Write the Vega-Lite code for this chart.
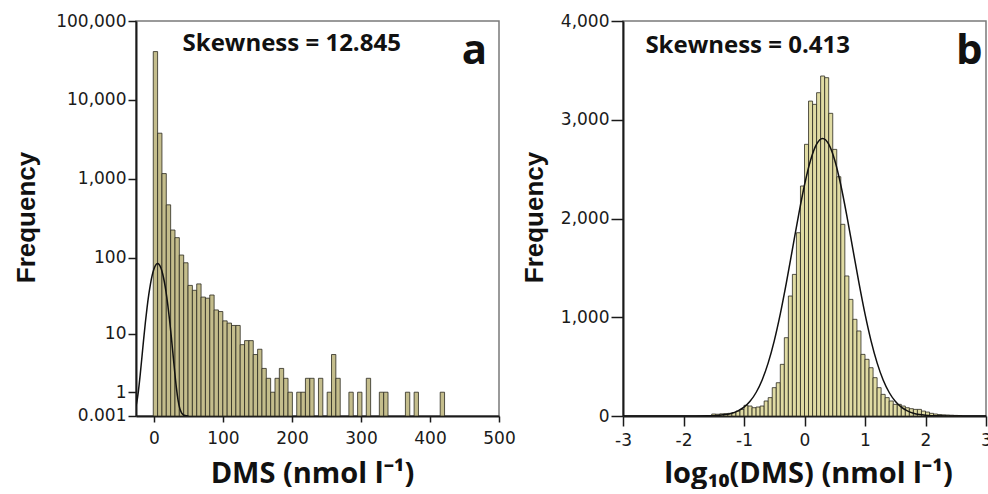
{
  "$schema": "https://vega.github.io/schema/vega-lite/v6.json",
  "background": "white",
  "padding": {"left": 12, "top": 11, "right": 0, "bottom": 0},
  "bounds": "flush",
  "spacing": 124,
  "config": {
    "view": {"stroke": "#7a7a7a", "strokeWidth": 1.5},
    "axis": {
      "grid": false,
      "domainColor": "#1a1a1a",
      "domainWidth": 2,
      "tickColor": "#1a1a1a",
      "tickWidth": 1.5,
      "labelFont": "DejaVu Sans",
      "labelFontSize": 17,
      "labelColor": "#1a1a1a",
      "labelFlush": false,
      "labelOverlap": false,
      "titleColor": "#111111"
    }
  },
  "datasets": {
    "leftBins": [
      {"x0": -1, "x1": 5.3, "count": 41000},
      {"x0": 5.3, "x1": 11.6, "count": 3800},
      {"x0": 11.6, "x1": 17.9, "count": 1170},
      {"x0": 17.9, "x1": 24.2, "count": 470},
      {"x0": 24.2, "x1": 30.5, "count": 225},
      {"x0": 30.5, "x1": 36.8, "count": 180},
      {"x0": 36.8, "x1": 43.1, "count": 108},
      {"x0": 43.1, "x1": 49.4, "count": 86},
      {"x0": 49.4, "x1": 55.7, "count": 44},
      {"x0": 55.7, "x1": 62.0, "count": 38},
      {"x0": 62.0, "x1": 68.3, "count": 46},
      {"x0": 68.3, "x1": 74.6, "count": 31},
      {"x0": 74.6, "x1": 80.9, "count": 30},
      {"x0": 80.9, "x1": 87.2, "count": 33},
      {"x0": 87.2, "x1": 93.5, "count": 21},
      {"x0": 93.5, "x1": 99.8, "count": 20},
      {"x0": 99.8, "x1": 106.1, "count": 15},
      {"x0": 106.1, "x1": 112.4, "count": 14},
      {"x0": 112.4, "x1": 118.7, "count": 13},
      {"x0": 118.7, "x1": 125.0, "count": 13},
      {"x0": 125.0, "x1": 131.3, "count": 7},
      {"x0": 131.3, "x1": 137.6, "count": 8},
      {"x0": 137.6, "x1": 143.9, "count": 8},
      {"x0": 143.9, "x1": 150.2, "count": 5},
      {"x0": 150.2, "x1": 156.5, "count": 6},
      {"x0": 156.5, "x1": 162.8, "count": 3},
      {"x0": 162.8, "x1": 169.1, "count": 2},
      {"x0": 169.1, "x1": 175.4, "count": 1},
      {"x0": 175.4, "x1": 181.7, "count": 2},
      {"x0": 181.7, "x1": 188.0, "count": 3},
      {"x0": 188.0, "x1": 194.3, "count": 2},
      {"x0": 194.3, "x1": 200.6, "count": 1},
      {"x0": 206.9, "x1": 213.2, "count": 1},
      {"x0": 213.2, "x1": 219.5, "count": 1},
      {"x0": 219.5, "x1": 225.8, "count": 2},
      {"x0": 225.8, "x1": 232.1, "count": 2},
      {"x0": 238.4, "x1": 244.7, "count": 2},
      {"x0": 251.0, "x1": 257.3, "count": 1},
      {"x0": 257.3, "x1": 263.6, "count": 5},
      {"x0": 263.6, "x1": 269.9, "count": 2},
      {"x0": 282.5, "x1": 288.8, "count": 1},
      {"x0": 295.1, "x1": 301.4, "count": 1},
      {"x0": 307.7, "x1": 314.0, "count": 2},
      {"x0": 326.6, "x1": 332.9, "count": 1},
      {"x0": 332.9, "x1": 339.2, "count": 1},
      {"x0": 364.4, "x1": 370.7, "count": 1},
      {"x0": 377.0, "x1": 383.3, "count": 1},
      {"x0": 414.8, "x1": 421.1, "count": 1}
    ],
    "leftCurve": [
      {"x": -26, "y": 0.333}, {"x": -25, "y": 0.473}, {"x": -22.5, "y": 1.07},
      {"x": -20, "y": 2.27}, {"x": -17.5, "y": 4.47}, {"x": -15, "y": 8.2},
      {"x": -12.5, "y": 14.05}, {"x": -10, "y": 22.4}, {"x": -7.5, "y": 33.3},
      {"x": -5, "y": 46.2}, {"x": -2.5, "y": 59.6}, {"x": 0, "y": 71.7},
      {"x": 2.5, "y": 80.4}, {"x": 5.3, "y": 84}, {"x": 7.5, "y": 81.7},
      {"x": 10, "y": 74.2}, {"x": 12.5, "y": 62.7}, {"x": 15, "y": 49.4},
      {"x": 17.5, "y": 36.3}, {"x": 20, "y": 24.8}, {"x": 22.5, "y": 15.8},
      {"x": 25, "y": 9.4}, {"x": 27.5, "y": 5.2}, {"x": 30, "y": 2.69},
      {"x": 32.5, "y": 1.29}, {"x": 35, "y": 0.579}, {"x": 37.5, "y": 0.242},
      {"x": 40, "y": 0.094}, {"x": 42.5, "y": 0.034}, {"x": 45, "y": 0.0115},
      {"x": 50, "y": 0.001}
    ],
    "leftText": [
      {"x": 41.5, "y": 41300, "label": "Skewness = 12.845", "kind": "skew"},
      {"x": 446, "y": 28800, "label": "a", "kind": "letter"}
    ],
    "rightBins": [
      {"x0": -1.5333, "x1": -1.4667, "count": 20},
      {"x0": -1.4667, "x1": -1.4, "count": 18},
      {"x0": -1.4, "x1": -1.3333, "count": 22},
      {"x0": -1.3333, "x1": -1.2667, "count": 24},
      {"x0": -1.2667, "x1": -1.2, "count": 27},
      {"x0": -1.2, "x1": -1.1333, "count": 34},
      {"x0": -1.1333, "x1": -1.0667, "count": 50},
      {"x0": -1.0667, "x1": -1.0, "count": 67},
      {"x0": -1.0, "x1": -0.9333, "count": 108},
      {"x0": -0.9333, "x1": -0.8667, "count": 101},
      {"x0": -0.8667, "x1": -0.8, "count": 84},
      {"x0": -0.8, "x1": -0.7333, "count": 91},
      {"x0": -0.7333, "x1": -0.6667, "count": 101},
      {"x0": -0.6667, "x1": -0.6, "count": 152},
      {"x0": -0.6, "x1": -0.5333, "count": 186},
      {"x0": -0.5333, "x1": -0.4667, "count": 287},
      {"x0": -0.4667, "x1": -0.4, "count": 337},
      {"x0": -0.4, "x1": -0.3333, "count": 523},
      {"x0": -0.3333, "x1": -0.2667, "count": 793},
      {"x0": -0.2667, "x1": -0.2, "count": 1215},
      {"x0": -0.2, "x1": -0.1333, "count": 1434},
      {"x0": -0.1333, "x1": -0.0667, "count": 1856},
      {"x0": -0.0667, "x1": 0.0, "count": 2329},
      {"x0": 0.0, "x1": 0.0667, "count": 2751},
      {"x0": 0.0667, "x1": 0.1333, "count": 3189},
      {"x0": 0.1333, "x1": 0.2, "count": 3156},
      {"x0": 0.2, "x1": 0.2667, "count": 3274},
      {"x0": 0.2667, "x1": 0.3333, "count": 3443},
      {"x0": 0.3333, "x1": 0.4, "count": 3426},
      {"x0": 0.4, "x1": 0.4667, "count": 3065},
      {"x0": 0.4667, "x1": 0.5333, "count": 2700},
      {"x0": 0.5333, "x1": 0.6, "count": 2423},
      {"x0": 0.6, "x1": 0.6667, "count": 1941},
      {"x0": 0.6667, "x1": 0.7333, "count": 1418},
      {"x0": 0.7333, "x1": 0.8, "count": 1181},
      {"x0": 0.8, "x1": 0.8667, "count": 979},
      {"x0": 0.8667, "x1": 0.9333, "count": 861},
      {"x0": 0.9333, "x1": 1.0, "count": 624},
      {"x0": 1.0, "x1": 1.0667, "count": 574},
      {"x0": 1.0667, "x1": 1.1333, "count": 489},
      {"x0": 1.1333, "x1": 1.2, "count": 388},
      {"x0": 1.2, "x1": 1.2667, "count": 287},
      {"x0": 1.2667, "x1": 1.3333, "count": 219},
      {"x0": 1.3333, "x1": 1.4, "count": 186},
      {"x0": 1.4, "x1": 1.4667, "count": 152},
      {"x0": 1.4667, "x1": 1.5333, "count": 118},
      {"x0": 1.5333, "x1": 1.6, "count": 118},
      {"x0": 1.6, "x1": 1.6667, "count": 101},
      {"x0": 1.6667, "x1": 1.7333, "count": 84},
      {"x0": 1.7333, "x1": 1.8, "count": 74},
      {"x0": 1.8, "x1": 1.8667, "count": 67},
      {"x0": 1.8667, "x1": 1.9333, "count": 67},
      {"x0": 1.9333, "x1": 2.0, "count": 50},
      {"x0": 2.0, "x1": 2.0667, "count": 40},
      {"x0": 2.0667, "x1": 2.1333, "count": 27},
      {"x0": 2.1333, "x1": 2.2, "count": 20},
      {"x0": 2.2, "x1": 2.2667, "count": 15},
      {"x0": 2.2667, "x1": 2.3333, "count": 12},
      {"x0": 2.3333, "x1": 2.4, "count": 10},
      {"x0": 2.4, "x1": 2.4667, "count": 8},
      {"x0": 2.4667, "x1": 2.5333, "count": 6},
      {"x0": 2.5333, "x1": 2.6, "count": 5}
    ],
    "rightCurve": [
      {"x": -3, "y": 0}, {"x": -2.4, "y": 0}, {"x": -2.0, "y": 0.06},
      {"x": -1.8, "y": 0.35}, {"x": -1.6, "y": 1.78}, {"x": -1.5, "y": 3.78},
      {"x": -1.4, "y": 7.7}, {"x": -1.3, "y": 15.1}, {"x": -1.2, "y": 28.5},
      {"x": -1.1, "y": 51.5}, {"x": -1.0, "y": 89.3}, {"x": -0.9, "y": 148.8},
      {"x": -0.8, "y": 238}, {"x": -0.7, "y": 365}, {"x": -0.6, "y": 538},
      {"x": -0.5, "y": 761}, {"x": -0.4, "y": 1034}, {"x": -0.3, "y": 1348},
      {"x": -0.2, "y": 1687}, {"x": -0.1, "y": 2027}, {"x": 0.0, "y": 2339},
      {"x": 0.1, "y": 2590}, {"x": 0.2, "y": 2753}, {"x": 0.3, "y": 2810},
      {"x": 0.4, "y": 2753}, {"x": 0.5, "y": 2590}, {"x": 0.6, "y": 2339},
      {"x": 0.7, "y": 2027}, {"x": 0.8, "y": 1687}, {"x": 0.9, "y": 1348},
      {"x": 1.0, "y": 1034}, {"x": 1.1, "y": 761}, {"x": 1.2, "y": 538},
      {"x": 1.3, "y": 365}, {"x": 1.4, "y": 238}, {"x": 1.5, "y": 148.8},
      {"x": 1.6, "y": 89.3}, {"x": 1.7, "y": 51.5}, {"x": 1.8, "y": 28.5},
      {"x": 1.9, "y": 15.1}, {"x": 2.0, "y": 7.7}, {"x": 2.1, "y": 3.78},
      {"x": 2.2, "y": 1.78}, {"x": 2.4, "y": 0.35}, {"x": 2.6, "y": 0.06},
      {"x": 3, "y": 0}
    ],
    "rightText": [
      {"x": -2.63, "y": 3679, "label": "Skewness = 0.413", "kind": "skew"},
      {"x": 2.505, "y": 3560, "label": "b", "kind": "letter"}
    ]
  },
  "hconcat": [
    {
      "width": 363,
      "height": 395,
      "layer": [
        {
          "data": {"name": "leftBins"},
          "mark": {"type": "bar", "fill": "#c4bd8c", "stroke": "#2b2a20", "strokeWidth": 0.8},
          "encoding": {
            "x": {
              "field": "x0", "type": "quantitative",
              "scale": {"domain": [-26, 500], "nice": false, "zero": false},
              "axis": {
                "values": [0, 100, 200, 300, 400, 500],
                "format": "d",
                "tickSize": 6, "labelPadding": 8,
                "title": "DMS (nmol l⁻¹)",
                "titleFont": "Open Sans", "titleFontWeight": "bold", "titleFontSize": 29,
                "titleX": 176, "titleY": 66, "titleBaseline": "alphabetic", "titleAlign": "center"
              }
            },
            "x2": {"field": "x1"},
            "y": {
              "field": "count", "type": "quantitative",
              "scale": {"type": "symlog", "domain": [0, 100000], "nice": false, "zero": false},
              "axis": {
                "values": [0.001, 1, 10, 100, 1000, 10000, 100000],
                "labelExpr": "datum.value < 1 ? format(datum.value, '.3f') : format(datum.value, ',d')",
                "tickSize": 8, "labelPadding": 2,
                "title": "Frequency",
                "titleFont": "Liberation Sans", "titleFontWeight": "bold", "titleFontSize": 26,
                "titleX": -102, "titleY": 196, "titleBaseline": "alphabetic", "titleAlign": "center", "titleAngle": -90
              }
            },
            "y2": {"datum": 0}
          }
        },
        {
          "data": {"name": "leftCurve"},
          "mark": {"type": "line", "color": "#111111", "strokeWidth": 1.5, "clip": true, "interpolate": "monotone"},
          "encoding": {
            "x": {"field": "x", "type": "quantitative", "scale": {"domain": [-26, 500], "nice": false, "zero": false}},
            "y": {"field": "y", "type": "quantitative", "scale": {"type": "symlog", "domain": [0, 100000], "nice": false, "zero": false}}
          }
        },
        {
          "data": {"name": "leftText"},
          "mark": {"type": "text", "align": "left", "baseline": "alphabetic", "font": "Open Sans", "fontWeight": "bold", "color": "#111111"},
          "encoding": {
            "x": {"field": "x", "type": "quantitative", "scale": {"domain": [-26, 500], "nice": false, "zero": false}},
            "y": {"field": "y", "type": "quantitative", "scale": {"type": "symlog", "domain": [0, 100000], "nice": false, "zero": false}},
            "text": {"field": "label"},
            "size": {"field": "kind", "type": "nominal", "scale": {"domain": ["skew", "letter"], "range": [24, 42]}, "legend": null}
          }
        }
      ]
    },
    {
      "width": 363,
      "height": 395,
      "layer": [
        {
          "data": {"name": "rightBins"},
          "mark": {"type": "bar", "fill": "#e0dba3", "stroke": "#2b2a20", "strokeWidth": 0.8},
          "encoding": {
            "x": {
              "field": "x0", "type": "quantitative",
              "scale": {"domain": [-3, 3], "nice": false, "zero": false},
              "axis": {
                "values": [-3, -2, -1, 0, 1, 2, 3],
                "labelExpr": "'' + datum.value",
                "tickSize": 10, "labelPadding": 6,
                "title": "log₁₀(DMS) (nmol l⁻¹)",
                "titleFont": "Open Sans", "titleFontWeight": "bold", "titleFontSize": 29,
                "titleX": 185, "titleY": 66, "titleBaseline": "alphabetic", "titleAlign": "center"
              }
            },
            "x2": {"field": "x1"},
            "y": {
              "field": "count", "type": "quantitative",
              "scale": {"domain": [0, 4000], "nice": false},
              "axis": {
                "values": [0, 1000, 2000, 3000, 4000],
                "format": ",d",
                "tickSize": 12, "labelPadding": 2,
                "title": "Frequency",
                "titleFont": "Liberation Sans", "titleFontWeight": "bold", "titleFontSize": 26,
                "titleX": -81, "titleY": 196, "titleBaseline": "alphabetic", "titleAlign": "center", "titleAngle": -90
              }
            },
            "y2": {"datum": 0}
          }
        },
        {
          "data": {"name": "rightCurve"},
          "mark": {"type": "line", "color": "#111111", "strokeWidth": 1.5, "clip": true, "interpolate": "monotone"},
          "encoding": {
            "x": {"field": "x", "type": "quantitative", "scale": {"domain": [-3, 3], "nice": false, "zero": false}},
            "y": {"field": "y", "type": "quantitative", "scale": {"domain": [0, 4000], "nice": false}}
          }
        },
        {
          "data": {"name": "rightText"},
          "mark": {"type": "text", "align": "left", "baseline": "alphabetic", "font": "Open Sans", "fontWeight": "bold", "color": "#111111"},
          "encoding": {
            "x": {"field": "x", "type": "quantitative", "scale": {"domain": [-3, 3], "nice": false, "zero": false}},
            "y": {"field": "y", "type": "quantitative", "scale": {"domain": [0, 4000], "nice": false}},
            "text": {"field": "label"},
            "size": {"field": "kind", "type": "nominal", "scale": {"domain": ["skew", "letter"], "range": [24, 42]}, "legend": null}
          }
        }
      ]
    }
  ]
}
